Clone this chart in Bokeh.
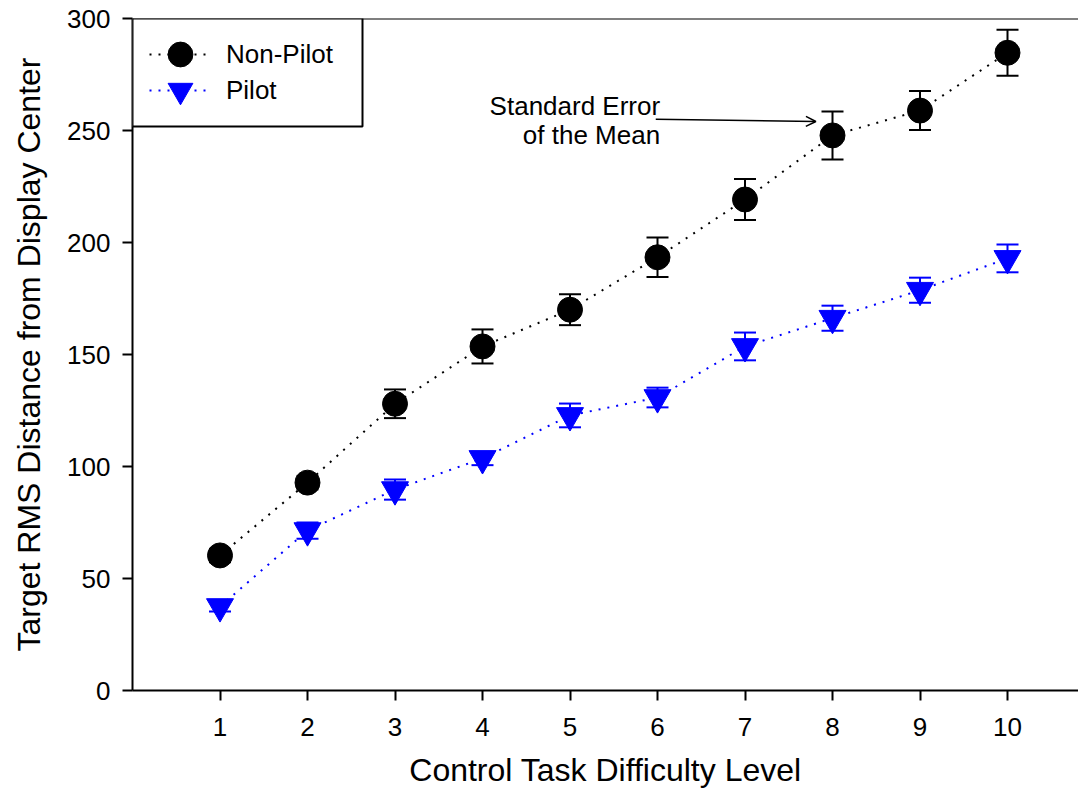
from bokeh.plotting import figure
from bokeh.models import (ColumnDataSource, Range1d, Whisker, TeeHead, Legend, LegendItem,
                          Span, Label, Arrow, OpenHead, FixedTicker, BoxAnnotation)
from bokeh.embed import file_html
from bokeh.resources import INLINE

# ---- data ----
levels = [1, 2, 3, 4, 5, 6, 7, 8, 9, 10]
nonpilot = [60.3, 92.8, 128.0, 153.6, 170.0, 193.4, 219.2, 247.8, 258.9, 284.7]
nonpilot_se = [3.0, 3.0, 6.4, 7.6, 6.9, 8.8, 9.2, 10.7, 8.7, 10.3]
pilot = [37.5, 71.4, 89.7, 103.6, 122.8, 130.8, 153.6, 166.2, 178.7, 192.9]
pilot_se = [2.2, 3.6, 4.5, 3.0, 5.3, 4.4, 6.2, 5.6, 5.6, 6.2]
y_ticks = [0, 50, 100, 150, 200, 250, 300]
series_names = ["Non-Pilot", "Pilot"]
x_title = "Control Task Difficulty Level"
y_title = "Target RMS Distance from Display Center"
note_lines = ["Standard Error", "of the Mean"]

FONT = "Liberation Sans"
BLUE = "#0000FF"

src_np = ColumnDataSource(dict(x=levels, y=nonpilot,
                               lo=[v - e for v, e in zip(nonpilot, nonpilot_se)],
                               hi=[v + e for v, e in zip(nonpilot, nonpilot_se)]))
src_p = ColumnDataSource(dict(x=levels, y=pilot,
                              lo=[v - e for v, e in zip(pilot, pilot_se)],
                              hi=[v + e for v, e in zip(pilot, pilot_se)]))

W, H = 1078, 797
BL, BT, BB = 132, 18, 107
frame_h = H - BT - BB
x_end = (W - BL) / 87.5

p = figure(width=W, height=H, output_backend="svg", toolbar_location=None,
           x_range=Range1d(0, x_end), y_range=Range1d(0, 300),
           min_border_left=BL, min_border_top=BT, min_border_bottom=BB, min_border_right=0)
p.outline_line_color = None
p.xgrid.visible = False
p.ygrid.visible = False
p.background_fill_color = "white"
p.border_fill_color = "white"

for ax in (p.xaxis[0], p.yaxis[0]):
    ax.axis_line_width = 2
    ax.axis_line_color = "black"
    ax.major_tick_line_width = 2
    ax.major_tick_line_color = "black"
    ax.major_tick_in = 0
    ax.major_tick_out = 10
    ax.minor_tick_line_color = None
    ax.major_label_text_font = FONT
    ax.major_label_text_font_size = "26px"
    ax.major_label_text_color = "black"
    ax.axis_label_text_font = FONT
    ax.axis_label_text_font_size = "32px"
    ax.axis_label_text_font_style = "normal"
    ax.axis_label_text_color = "black"

p.xaxis.ticker = FixedTicker(ticks=levels)
p.yaxis.ticker = FixedTicker(ticks=y_ticks)
p.xaxis.major_label_standoff = 17
p.yaxis.major_label_standoff = 12
p.xaxis.axis_label = x_title
p.yaxis.axis_label = y_title
p.xaxis.axis_label_standoff = 13
p.yaxis.axis_label_standoff = 17

# top spine
p.add_layout(Span(location=300, dimension="width", line_color="black", line_width=2))

# error bars
for src, col in ((src_np, "black"), (src_p, BLUE)):
    w = Whisker(source=src, base="x", lower="lo", upper="hi", line_color=col, line_width=2,
                upper_head=TeeHead(size=22, line_color=col, line_width=2),
                lower_head=TeeHead(size=22, line_color=col, line_width=2))
    w.level = "glyph"
    p.add_layout(w)

l_np = p.line("x", "y", source=src_np, line_color="black", line_width=2, line_dash="2 7")
m_np = p.scatter("x", "y", source=src_np, marker="circle", size=25,
                 fill_color="black", line_color="black")
l_p = p.line("x", "y", source=src_p, line_color=BLUE, line_width=2, line_dash="2 7")
m_p = p.scatter("x", "y", source=src_p, marker="inverted_triangle", size=27,
                fill_color=BLUE, line_color=BLUE)

# legend frame (box), then one borderless legend per row so rows can be tighter than glyphs
px_per_y = frame_h / 300.0
box_right = (362 - 132) / 87.5
box_bottom = 300 - (126 - 18) / px_per_y
p.add_layout(BoxAnnotation(left=0, right=box_right, bottom=box_bottom, top=300,
                           fill_color="white", fill_alpha=1.0,
                           line_color="black", line_alpha=1.0, line_width=2,
                           level="annotation"))

GLY = 62
row_centers = [36, 72]  # px below frame top
pairs = [(l_np, m_np), (l_p, m_p)]
for name, rends, rc in zip(series_names, pairs, row_centers):
    lg = Legend(items=[LegendItem(label=name, renderers=list(rends))],
                location=(17, frame_h - rc - GLY / 2), margin=0, padding=0, spacing=0,
                glyph_width=GLY, glyph_height=GLY, label_height=GLY,
                label_standoff=15,
                label_text_font=FONT, label_text_font_size="26px", label_text_color="black",
                border_line_color=None, background_fill_alpha=0.0)
    p.add_layout(lg)

# annotation
p.add_layout(Label(x=6.03, y=261, text=note_lines[0], text_align="right", text_baseline="middle",
                   text_font=FONT, text_font_size="26px", text_color="black"))
p.add_layout(Label(x=6.03, y=248, text=note_lines[1], text_align="right", text_baseline="middle",
                   text_font=FONT, text_font_size="26px", text_color="black"))
p.add_layout(Arrow(end=OpenHead(size=10, line_width=1.5, line_color="black"),
                   x_start=5.98, y_start=255, x_end=7.81, y_end=254,
                   line_width=1.5, line_color="black"))

open("out.html", "w").write(file_html(p, INLINE))
